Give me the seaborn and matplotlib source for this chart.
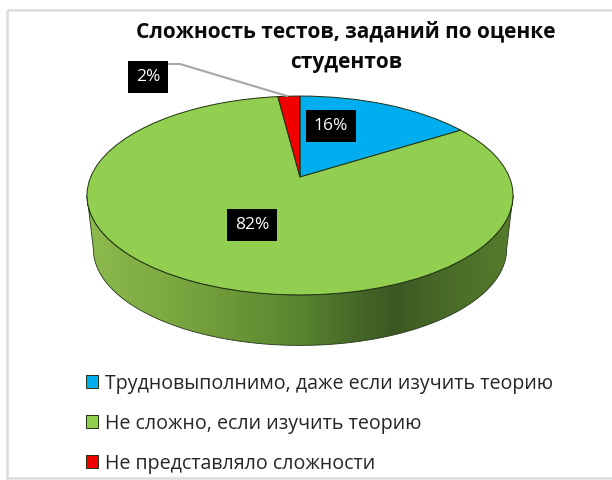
"""
Pie chart: test difficulty as rated by students
"""
import numpy as np
import seaborn as sns
import matplotlib.pyplot as plt
from matplotlib.colors import LinearSegmentedColormap
from matplotlib.patches import PathPatch, Rectangle
from matplotlib.path import Path
from matplotlib.transforms import Transform

sns.set_theme(style='white')
plt.rcParams['font.family'] = ['Open Sans', 'DejaVu Sans']

TITLE = 'Сложность тестов, заданий по оценке\nстудентов'
CATEGORIES = ['Трудновыполнимо, даже если изучить теорию',
              'Не сложно, если изучить теорию',
              'Не представляло сложности']
SHARES = [16, 82, 2]
COLORS = ['#00AEEF', '#92CF50', '#F00000']
WALL_STOPS = [(0, '#8DBB4E'), (0.2, '#7BA840'), (0.5, '#5A8530'), (0.6, '#4A6E2A'),
              (0.72, '#3C5822'), (0.85, '#4A6C28'), (1, '#567C2C')]


class TiltedDisc(Transform):
    """Perspective view of the unit circle, output in image pixels."""
    input_dims = 2
    output_dims = 2
    is_separable = False

    def __init__(self, scale=1.0, drop=0.0):
        super().__init__()
        self.scale = scale
        self.drop = drop

    def transform_non_affine(self, xy):
        xy = np.asarray(xy)
        depth = 1 + 0.186 * xy[:, 1]
        px = 300 + 209.3 * self.scale * xy[:, 0] / depth
        py = 177 + self.drop - 96 * self.scale * xy[:, 1] / depth
        return np.column_stack([px, py])


fig = plt.figure(figsize=(6.12, 4.8), dpi=100)
ax = fig.add_axes([0, 0, 1, 1])

wedges, _ = ax.pie(SHARES, colors=COLORS, startangle=90, counterclock=False,
                   wedgeprops={'edgecolor': '#1F3010', 'linewidth': 0.7})
ax.set_aspect('auto')
ax.axis('off')

# Pie wedges go through the perspective first, then the pixel axes
for wedge in wedges:
    wedge.set_transform(TiltedDisc() + ax.transData)
    wedge.set_zorder(3)

# Side wall of the disc, shaded from left to right
t = np.radians(np.linspace(190.7, 349.3, 160))
ring = np.column_stack([np.cos(t), np.sin(t)])
upper = TiltedDisc().transform(ring)
lower = TiltedDisc(scale=0.97, drop=54).transform(ring)
wall = Path(np.vstack([upper, lower[::-1], upper[:1]]), closed=True)
wall_patch = PathPatch(wall, facecolor='none', edgecolor='#24381A', linewidth=0.6, zorder=2)
ax.add_patch(wall_patch)
shade = LinearSegmentedColormap.from_list('wall', WALL_STOPS)
img = ax.imshow(np.linspace(0, 1, 256)[None, :], cmap=shade, aspect='auto',
                extent=(87, 513, 350, 180), zorder=1)
img.set_clip_path(wall_patch)
ax.set_xlim(0, 612)
ax.set_ylim(480, 0)

# Chart frame, the picture is cut off at the right
ax.add_patch(Rectangle((7, 10), 700, 468, facecolor='none', edgecolor='#DDDDDD',
                       linewidth=1.8, zorder=0))

ax.text(346, 47, TITLE, ha='center', va='center', fontsize=15, fontweight='bold',
        color='#0A0A0A', linespacing=1.6)

# Leader line for the small slice
ax.plot([168, 180, 287], [64, 64, 96], color='#A6A6A6', linewidth=1.5, zorder=4)

for share, x, y in zip(SHARES, [331, 252, 148], [126, 225, 77]):
    ax.text(x, y, f'{share}%', ha='center', va='center', color='white', fontsize=12.5,
            zorder=5, bbox={'boxstyle': 'square,pad=0.45', 'facecolor': 'black', 'edgecolor': 'none'})

ax.legend(wedges, CATEGORIES, loc='upper left', bbox_to_anchor=(66 / 612, 1 - 354 / 480),
          frameon=False, fontsize=14.1, labelspacing=1.02, handlelength=0.62, handleheight=0.62,
          handletextpad=0.35, borderpad=0.5, labelcolor='#262626')

plt.savefig('out.png', dpi=100)
plt.close()
